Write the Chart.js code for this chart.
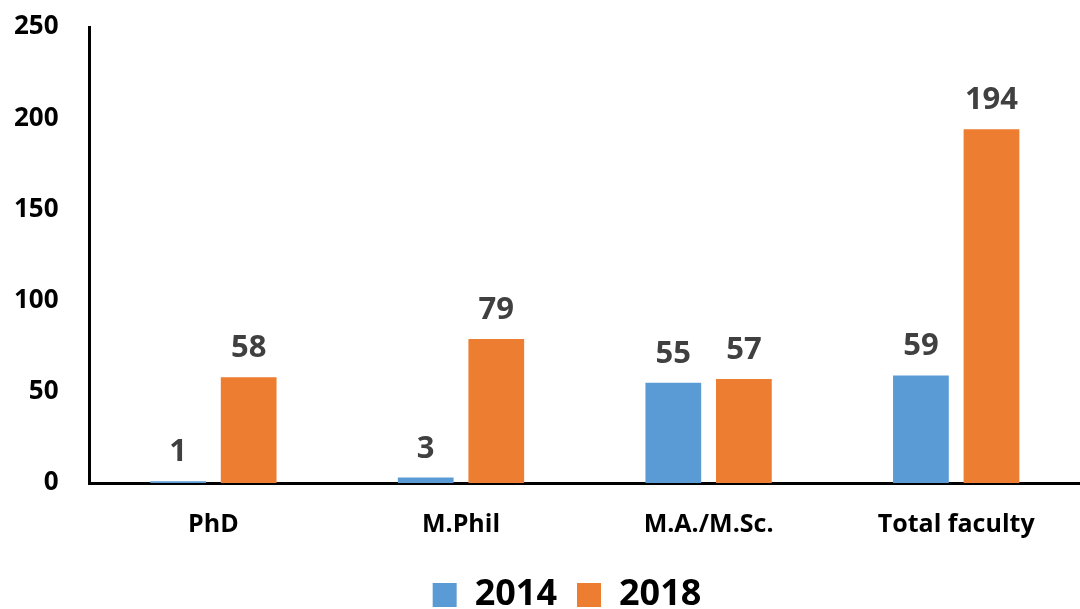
<!DOCTYPE html>
<html>
<head>
<meta charset="utf-8">
<script src="https://cdn.jsdelivr.net/npm/chart.js@4"></script>
<style>
  html, body { margin: 0; padding: 0; background: #fff; }
  #wrap { width: 1080px; height: 609px; }
</style>
</head>
<body>
<div id="wrap"><canvas id="facultyChart" width="1080" height="609"></canvas></div>
<script>
const categories = ['PhD', 'M.Phil', 'M.A./M.Sc.', 'Total faculty'];
const values2014 = [1, 3, 55, 59];
const values2018 = [58, 79, 57, 194];
const yTicks = [0, 50, 100, 150, 200, 250];

const FONT = "'Open Sans'";

// etiquetas de valor acima das barras
const barLabels = {
    id: 'barLabels',
    afterDatasetsDraw(chart) {
        const c = chart.ctx;
        c.save();
        c.font = 'bold 31px ' + FONT;
        c.fillStyle = '#404040';
        c.textAlign = 'center';
        c.textBaseline = 'alphabetic';
        chart.data.datasets.forEach((ds, i) => {
            chart.getDatasetMeta(i).data.forEach((bar, j) => {
                c.fillText(String(ds.data[j]), bar.x, bar.y - 20);
            });
        });
        c.restore();
    }
};

// legenda um pouco deslocada para a direita, como no original
const shiftLegend = {
    id: 'shiftLegend',
    afterLayout(chart) {
        if (chart.legend) {
            chart.legend.left += 31;
            chart.legend.right += 31;
        }
    }
};

const ctx = document.getElementById('facultyChart').getContext('2d');
new Chart(ctx, {
    type: 'bar',
    data: {
        labels: categories,
        datasets: [
            { label: '2014', data: values2014, backgroundColor: '#5B9BD5' },
            { label: '2018', data: values2018, backgroundColor: '#ED7D31' }
        ]
    },
    options: {
        responsive: false,
        animation: false,
        layout: { padding: { top: 27, left: -17, right: -9, bottom: -14 } },
        datasets: {
            bar: { categoryPercentage: 0.57, barPercentage: 0.79 }
        },
        plugins: {
            tooltip: { enabled: false },
            legend: {
                position: 'bottom',
                labels: {
                    boxWidth: 24,
                    boxHeight: 24,
                    padding: 20,
                    color: '#000',
                    font: { family: FONT, size: 36, weight: 'bold', lineHeight: 1 }
                }
            }
        },
        scales: {
            x: {
                afterFit: axis => { axis.height -= 10; },
                grid: { display: false, drawTicks: false },
                border: { color: '#000', width: 3 },
                ticks: {
                    padding: 27,
                    color: '#000',
                    font: { family: FONT, size: 25, weight: 'bold' }
                }
            },
            y: {
                min: 0,
                max: 250,
                afterBuildTicks: axis => { axis.ticks = yTicks.map(v => ({ value: v })); },
                afterFit: axis => { axis.paddingTop = 0; axis.paddingBottom = 0; },
                grid: { display: false, drawTicks: false },
                border: { color: '#000', width: 3 },
                ticks: {
                    padding: 31,
                    color: '#000',
                    font: { family: FONT, size: 26, weight: 'bold' }
                }
            }
        }
    },
    plugins: [barLabels, shiftLegend]
});
</script>
</body>
</html>
